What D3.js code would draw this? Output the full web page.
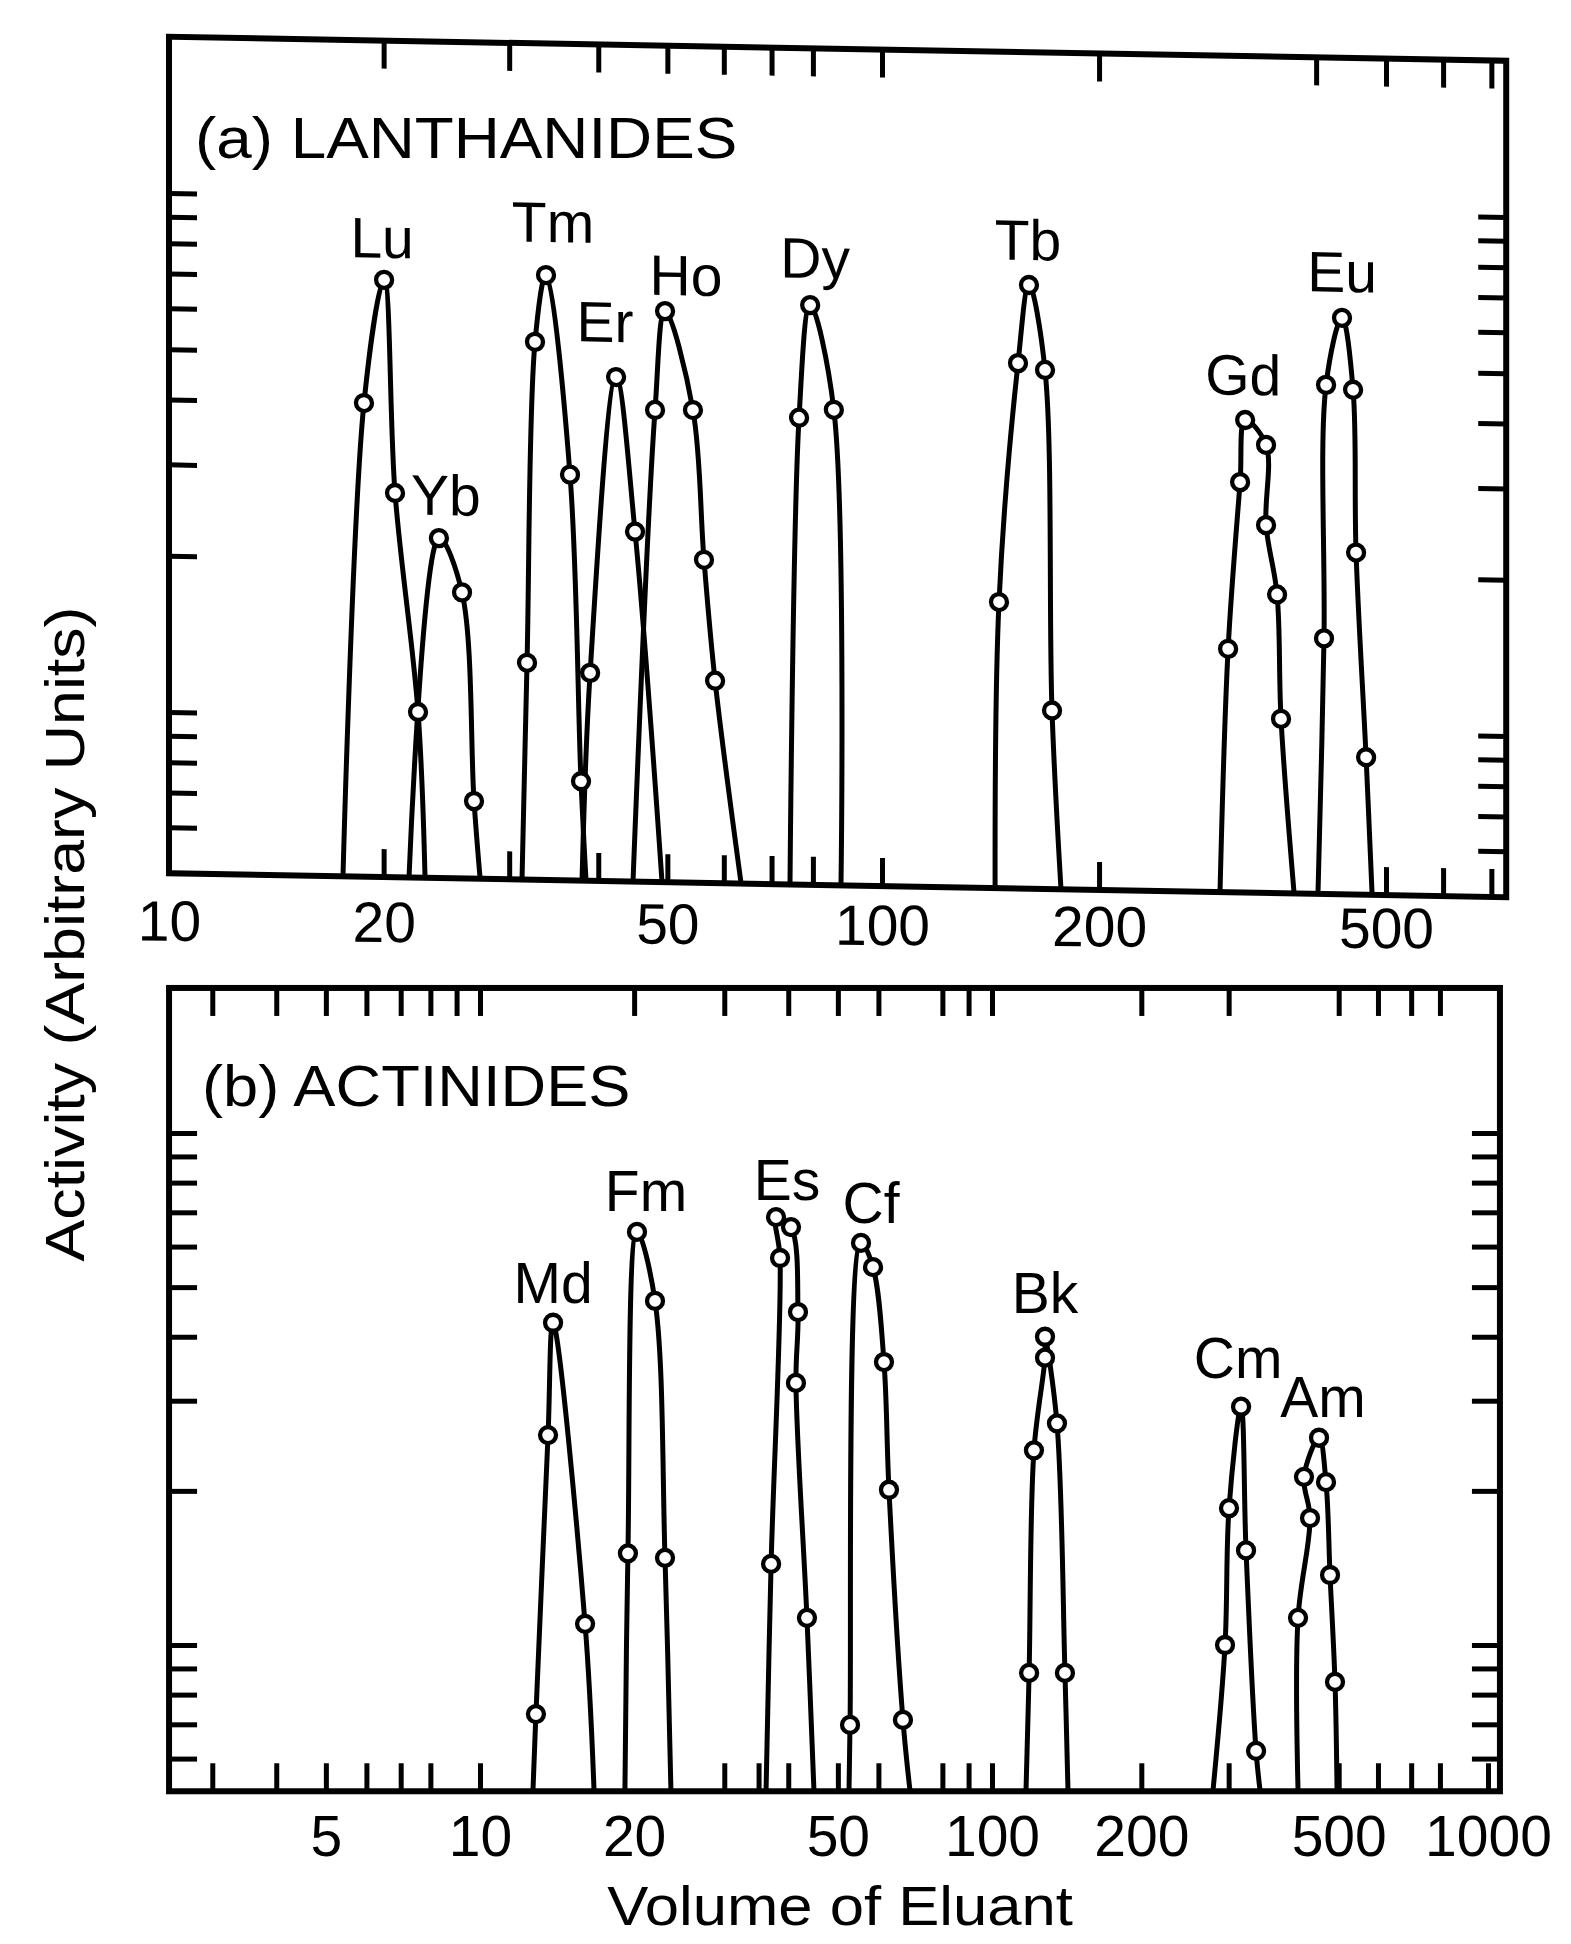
<!DOCTYPE html>
<html>
<head>
<meta charset="utf-8">
<script src="https://cdn.jsdelivr.net/npm/d3@7"></script>
<style>
  html, body { margin: 0; padding: 0; background: #ffffff; }
  svg { display: block; }
  text { font-family: "Liberation Sans", Arial, Helvetica, sans-serif; fill: #000; }
</style>
</head>
<body>
<svg id="chart" width="1571" height="1944"></svg>
<script>
// ---------------- DATA ----------------
// Each series: [volume of eluant, activity]; first/last points sit on the axis floor.
const lanthanideNames = ["Lu", "Yb", "Tm", "Er", "Ho", "Dy", "Tb", "Gd", "Eu"];
const luData = [[17.54,0.49],[18.77,4.00],[20.03,6.92],[20.75,2.69],[22.35,1.02],[22.86,0.49]];
const ybData = [[21.71,0.49],[23.91,2.21],[25.76,1.74],[26.78,0.69],[27.31,0.49]];
const tmData = [[31.27,0.49],[31.78,1.28],[32.61,5.32],[33.79,7.16],[36.51,2.96],[37.83,0.76],[38.45,0.49]];
const erData = [[37.96,0.49],[38.96,1.23],[42.37,4.58],[45.04,2.31],[49.14,0.49]];
const hoData = [[44.75,0.49],[48.05,3.97],[49.63,6.16],[54.31,3.98],[56.28,2.05],[58.33,1.20],[63.43,0.49]];
const dyData = [[74.3,0.49],[76.5,3.88],[79.3,6.40],[85.6,4.03],[87.6,0.49]];
const tbData = [[143.5,0.49],[145.3,1.74],[154.4,5.03],[159.9,7.12],[168.3,4.89],[172.1,1.08],[177.1,0.49]];
const gdData = [[294.3,0.49],[302.0,1.44],[313.8,3.02],[318.9,3.98],[340.9,3.57],[340.9,2.50],[353.1,1.84],[357.6,1.06],[372.8,0.49]];
const euData = [[402.4,0.49],[410.2,1.52],[412.9,4.68],[434.5,6.31],[450.1,4.59],[454.4,2.23],[469.2,0.90],[478.3,0.49]];

const actinideNames = ["Md", "Fm", "Es", "Cf", "Bk", "Cm", "Am"];
const mdData = [[12.69,0.52],[12.86,0.733],[13.58,2.57],[13.89,4.26],[16.04,1.10],[16.70,0.52]];
const fmData = [[19.19,0.52],[19.45,1.51],[20.26,6.41],[21.97,4.70],[22.98,1.48],[23.6,0.52]];
const esData = [[36.2,0.52],[37.03,1.44],[38.55,5.70],[37.86,6.85],[40.5,6.55],[41.79,4.47],[41.41,3.25],[43.51,1.13],[44.9,0.52]];
const cfData = [[52.57,0.52],[52.81,0.698],[55.48,6.10],[58.56,5.47],[61.52,3.57],[62.92,2.01],[67.0,0.714],[69.15,0.52]];
const bkData = [[117.1,0.52],[118.8,0.882],[121.5,2.40],[127.9,3.64],[127.9,4.00],[135.2,2.71],[140.3,0.882],[142.3,0.52]];
const cmData = [[279.0,0.52],[295.0,1.00],[300.5,1.85],[317.8,2.92],[325.2,1.53],[340.7,0.621],[347.1,0.52]];
const amData = [[414.0,0.52],[414.0,1.13],[437.7,1.77],[425.6,2.13],[456.4,2.54],[471.4,2.08],[480.3,1.37],[491.5,0.847],[496.2,0.52]];

// Axis ranges and ticks
const aXExtent = [10, 734];
const aYExtent = [0.489, 20];
const bXExtent = [2.47, 1057];
const bYExtent = [0.518, 19.2];
const yTickValues = [0.6, 0.7, 0.8, 0.9, 1, 2, 3, 4, 5, 6, 7, 8, 9, 10];
const aTopTicks = [20, 30, 40, 50, 60, 70, 80, 100, 200, 400, 500, 600, 700];
const aBottomTicks = [20, 30, 40, 50, 60, 70, 80, 100, 200, 500, 600, 700];
const aTickLabels = [10, 20, 50, 100, 200, 500];
const bTopTicks = [3, 4, 5, 6, 7, 8, 9, 10, 20, 30, 40, 50, 60, 80, 90, 100, 200, 300, 500, 600, 700, 800];
const bBottomTicks = [3, 4, 5, 6, 7, 8, 10, 30, 35, 40, 50, 60, 80, 90, 100, 200, 300, 500, 600, 700, 800, 1000];
const bTickLabels = [5, 10, 20, 50, 100, 200, 500, 1000];

const panelTitles = ["(a) LANTHANIDES", "(b) ACTINIDES"];
const xAxisTitle = "Volume of Eluant";
const yAxisTitle = "Activity (Arbitrary Units)";

// ---------------- LAYOUT / STYLE ----------------
const FONT = 57;
const labelOffsetA = { Lu:[-2,-22], Yb:[7,-23], Tm:[7,-33], Er:[-11,-35], Ho:[21,-16], Dy:[5,-27], Tb:[-1,-25], Gd:[-2,-25], Eu:[0,-26] };
const labelOffsetB = { Md:[0,-20], Fm:[9,-21], Es:[11,-17], Cf:[10,-20], Bk:[0,-24], Cm:[-3,-29], Am:[4,-21] };

const svg = d3.select("#chart");
svg.append("rect").attr("width", 1571).attr("height", 1944).attr("fill", "#fff");

function skewMatrix(k, x0) {
  return `matrix(1,${k},0,1,0,${-k * x0})`;
}

function drawPanel(p) {
  const x = d3.scaleLog().domain(p.xAnchors).range(p.xPixels);
  const y = d3.scaleLog().domain(p.yAnchors).range(p.yPixels);
  const g = svg.append("g").attr("transform", skewMatrix(p.skew, p.skewX0));

  const x0 = x(p.xExtent[0]), x1 = x(p.xExtent[1]);
  const yTop = y(p.yExtent[1]), yBot = y(p.yExtent[0]);

  const clipId = "clip-" + p.id;
  g.append("clipPath").attr("id", clipId)
    .append("rect").attr("x", x0).attr("y", yTop).attr("width", x1 - x0).attr("height", yBot - yTop);

  const tickLen = 28;
  const ax = g.append("g");
  ax.append("g").attr("transform", `translate(0,${yTop})`)
    .call(d3.axisBottom(x).tickValues(p.topTicks).tickSize(tickLen).tickFormat(""));
  ax.append("g").attr("transform", `translate(0,${yBot})`)
    .call(d3.axisTop(x).tickValues(p.bottomTicks).tickSize(tickLen).tickFormat(""));
  ax.append("g").attr("transform", `translate(${x0},0)`)
    .call(d3.axisRight(y).tickValues(yTickValues).tickSize(tickLen).tickFormat(""));
  ax.append("g").attr("transform", `translate(${x1},0)`)
    .call(d3.axisLeft(y).tickValues(yTickValues).tickSize(tickLen).tickFormat(""));
  ax.selectAll(".domain").remove();
  ax.selectAll(".tick line").attr("stroke", "#000").attr("stroke-width", 5);

  // tick labels: drawn with a milder slant than the frame (as in the scan)
  const lab = svg.append("g").attr("transform", skewMatrix(p.labelSkew, p.skewX0))
    .append("g").attr("transform", `translate(0,${yBot})`)
    .call(d3.axisBottom(x).tickValues(p.tickLabels).tickSize(0).tickPadding(p.labelPad).tickFormat(d3.format("d")));
  lab.select(".domain").remove();
  lab.selectAll("text").attr("font-size", FONT).attr("fill", "#000");

  g.append("rect").attr("x", x0).attr("y", yTop).attr("width", x1 - x0).attr("height", yBot - yTop)
    .attr("fill", "none").attr("stroke", "#000").attr("stroke-width", 6);

  const line = d3.line().x(d => x(d[0])).y(d => y(d[1])).curve(d3.curveCatmullRom.alpha(0.5));
  const curves = g.append("g").attr("clip-path", `url(#${clipId})`);
  p.series.forEach(s => {
    curves.append("path").attr("d", line(s.data))
      .attr("fill", "none").attr("stroke", "#000").attr("stroke-width", 5)
      .attr("stroke-linejoin", "round").attr("stroke-linecap", "round");
  });

  const marks = g.append("g");
  p.series.forEach(s => {
    const pts = s.data.slice(1, -1);
    marks.selectAll(null).data(pts).enter().append("circle")
      .attr("cx", d => x(d[0])).attr("cy", d => y(d[1])).attr("r", 8)
      .attr("fill", "#fff").attr("stroke", "#000").attr("stroke-width", 4.3);
  });

  const names = g.append("g");
  p.series.forEach(s => {
    const peak = s.data[d3.maxIndex(s.data, d => d[1])];
    const off = p.offsets[s.name];
    names.append("text")
      .attr("x", x(peak[0]) + off[0]).attr("y", y(peak[1]) + off[1])
      .attr("text-anchor", "middle").attr("font-size", 57).text(s.name);
  });
}

const lanthanideData = [luData, ybData, tmData, erData, hoData, dyData, tbData, gdData, euData];
const actinideData = [mdData, fmData, esData, cfData, bkData, cmData, amData];

drawPanel({
  id: "a",
  xAnchors: [10, 100, 500], xPixels: [169, 882, 1386],
  yAnchors: [1, 10], yPixels: [712, 193],
  skew: 24 / 1337, labelSkew: 8 / 1337, skewX0: 169,
  xExtent: aXExtent, yExtent: aYExtent,
  topTicks: aTopTicks, bottomTicks: aBottomTicks, tickLabels: aTickLabels, labelPad: 27,
  series: lanthanideNames.map((n, i) => ({ name: n, data: lanthanideData[i] })),
  offsets: labelOffsetA
});

drawPanel({
  id: "b",
  xAnchors: [10, 100, 1000], xPixels: [480, 992, 1488],
  yAnchors: [1, 10], yPixels: [1645, 1133],
  skew: 0, labelSkew: 0, skewX0: 169,
  xExtent: bXExtent, yExtent: bYExtent,
  topTicks: bTopTicks, bottomTicks: bBottomTicks, tickLabels: bTickLabels, labelPad: 24,
  series: actinideNames.map((n, i) => ({ name: n, data: actinideData[i] })),
  offsets: labelOffsetB
});

// Panel titles
svg.append("text").attr("transform", "translate(195,158) scale(1.1,1)")
  .attr("font-size", 58).text(panelTitles[0]);
svg.append("text").attr("transform", "translate(202,1106) scale(1.09,1)")
  .attr("font-size", 58).text(panelTitles[1]);

// Axis titles
svg.append("text").attr("transform", "translate(840,1925) scale(1.1,1)")
  .attr("text-anchor", "middle").attr("font-size", 56).text(xAxisTitle);
svg.append("text").attr("transform", "translate(84,934) rotate(-90) scale(1.12,1)")
  .attr("text-anchor", "middle").attr("font-size", 56).text(yAxisTitle);
</script>
</body>
</html>
